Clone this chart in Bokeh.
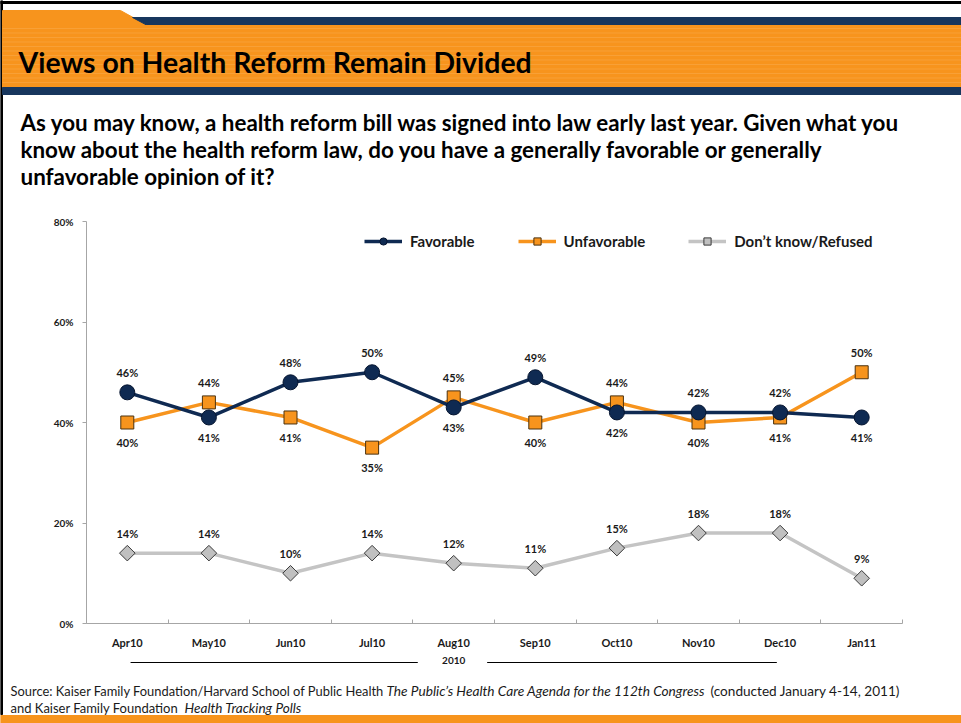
import numpy as np
from bokeh.plotting import figure
from bokeh.models import (Range1d, FixedTicker, LinearAxis, Legend, LegendItem,
                          ColumnDataSource, PrintfTickFormatter)
from bokeh.core.properties import value
from bokeh.embed import file_html
from bokeh.resources import INLINE

# ---------------- data ----------------
months = ["Apr10", "May10", "Jun10", "Jul10", "Aug10", "Sep10", "Oct10", "Nov10", "Dec10", "Jan11"]
year_label = "2010"
year_months = months[:9]
favorable = [46, 41, 48, 50, 43, 49, 42, 42, 42, 41]
unfavorable = [40, 44, 41, 35, 45, 40, 44, 40, 41, 50]
dont_know = [14, 14, 10, 14, 12, 11, 15, 18, 18, 9]
fav_side = ["above", "below", "above", "above", "below", "above", "below", "above", "above", "below"]
unf_side = ["below", "above", "below", "below", "above", "below", "above", "below", "below", "above"]
dk_side = ["above"] * 10
y_ticks = [0, 20, 40, 60, 80]
series_names = ["Favorable", "Unfavorable", "Don\u2019t know/Refused"]

title_text = "Views on Health Reform Remain Divided"
question_lines = [
    "As you may know, a health reform bill was signed into law early last year. Given what you",
    "know about the health reform law, do you have a generally favorable or generally",
    "unfavorable opinion of it?",
]
source_line1 = ["Source: Kaiser Family Foundation/Harvard School of Public Health ",
                "The Public\u2019s Health Care Agenda for the 112th Congress",
                " (conducted January 4-14, 2011)"]
source_line2 = ["and Kaiser Family Foundation ", "Health Tracking Polls"]

# ---------------- styling / layout constants ----------------
PAGE_W, PAGE_H = 961, 723
F_LEFT, F_RIGHT, F_TOP, F_BOT = 86, 902, 221, 623   # plot area on the page (px)
Y_MAX = 80

ORANGE = "#f7941d"
NAVY = "#17365d"
FAV_C = "#0f2a52"
DK_LINE = "#c4c4c4"
AXIS_C = "#a6a6a6"
TXT = "#1a1a1a"
FONT = "Lato"

n = len(months)
x_px = (F_RIGHT - F_LEFT) / n          # px per category
y_px = (F_BOT - F_TOP) / Y_MAX         # px per percentage point
x_range = Range1d(-F_LEFT / x_px, (PAGE_W - F_LEFT) / x_px)
y_range = Range1d(-(PAGE_H - F_BOT) / y_px, Y_MAX + F_TOP / y_px)

p = figure(width=PAGE_W, height=PAGE_H, x_range=x_range, y_range=y_range,
           toolbar_location=None, output_backend="svg", x_axis_type=None, y_axis_type=None,
           min_border=0)
p.outline_line_color = None
p.background_fill_color = "white"
p.border_fill_color = "white"
# page-pixel coordinates for the slide decoration
p.extra_x_ranges = {"px": Range1d(0, PAGE_W)}
p.extra_y_ranges = {"px": Range1d(PAGE_H, 0)}
PX = dict(x_range_name="px", y_range_name="px")

# ---------------- slide frame / header ----------------
p.quad(left=0, right=2, top=0, bottom=714, color="black", **PX)
p.quad(left=0, right=PAGE_W, top=1, bottom=3, color="black", **PX)
p.patch(x=[2, 120, 147, 2], y=[10, 10, 25, 25], color=ORANGE, **PX)
p.patch(x=[132, PAGE_W, PAGE_W, 147], y=[17, 17, 25, 25], color=NAVY, **PX)
p.quad(left=2, right=PAGE_W, top=25, bottom=87, color=ORANGE, **PX)
stripe_y = list(np.arange(28, 86, 4.5))
p.multi_line(xs=[[2, PAGE_W]] * len(stripe_y), ys=[[y, y] for y in stripe_y],
             line_color="#f9a848", line_width=1, line_alpha=0.6, **PX)
p.quad(left=2, right=PAGE_W, top=87, bottom=94, color=NAVY, **PX)
p.text(x=[18], y=[61], text=[title_text], text_font=value(FONT), text_font_style="bold",
       text_font_size="28.4px", text_color="black", text_baseline="middle", **PX)
p.text(x=[20] * 3, y=[122, 149, 176], text=question_lines, text_font=value(FONT),
       text_font_style="bold", text_font_size="22.4px", text_color="black",
       text_baseline="middle", **PX)

# ---------------- series ----------------
xs = np.arange(n) + 0.5
LBL_OFF = 20


def offsets(sides):
    return [-LBL_OFF if s == "above" else LBL_OFF for s in sides]


def add_series(vals, sides, line_color, marker, fill, outline, size, angle=0.0):
    src = ColumnDataSource(dict(x=xs, y=vals, t=[f"{v}%" for v in vals], off=offsets(sides)))
    ln = p.line("x", "y", source=src, line_color=line_color, line_width=3.5)
    pts = p.scatter("x", "y", source=src, marker=marker, size=size, fill_color=fill,
                    line_color=outline, line_width=1, angle=angle)
    p.text("x", "y", text="t", y_offset="off", source=src, text_font=value(FONT),
           text_font_style="bold", text_font_size="11px", text_color=TXT,
           text_align="center", text_baseline="middle")
    return ln, pts


dk_r = add_series(dont_know, dk_side, DK_LINE, "square", "#c0c0c0", "#3a3a3a", 11, np.pi / 4)
unf_r = add_series(unfavorable, unf_side, ORANGE, "square", ORANGE, "#4a3210", 13)
fav_r = add_series(favorable, fav_side, FAV_C, "circle", FAV_C, "#061530", 15)

# ---------------- axes ----------------
yax = LinearAxis(ticker=FixedTicker(ticks=y_ticks), formatter=PrintfTickFormatter(format="%d%%"),
                 fixed_location=0, bounds=(0, Y_MAX))
yax.axis_line_color = AXIS_C
yax.major_tick_line_color = AXIS_C
yax.major_tick_in = 0
yax.major_tick_out = 4
yax.minor_tick_line_color = None
yax.major_label_standoff = 9
yax.major_label_text_font = FONT
yax.major_label_text_font_style = "bold"
yax.major_label_text_font_size = "10px"
yax.major_label_text_color = TXT
p.add_layout(yax, "left")

xax = LinearAxis(ticker=FixedTicker(ticks=list(xs), minor_ticks=list(range(n + 1))),
                 major_label_overrides={float(x): m for x, m in zip(xs, months)},
                 fixed_location=0, bounds=(0, n))
xax.axis_line_color = AXIS_C
xax.major_tick_line_color = None
xax.major_tick_in = 0
xax.major_tick_out = 0
xax.minor_tick_line_color = AXIS_C
xax.minor_tick_in = 4
xax.minor_tick_out = 0
xax.major_label_standoff = 12
xax.major_label_text_font = FONT
xax.major_label_text_font_style = "bold"
xax.major_label_text_font_size = "11px"
xax.major_label_text_color = TXT
p.add_layout(xax, "below")

# year group label under the month axis
span_lo = months.index(year_months[0])
span_hi = months.index(year_months[-1]) + 1
centre = (span_lo + span_hi) / 2
p.text(x=[centre], y=[660], text=[year_label], y_range_name="px", text_font=value(FONT),
       text_font_style="bold", text_font_size="10px", text_color=TXT, text_align="center",
       text_baseline="middle")
p.segment(x0=[span_lo + 0.54, centre + 0.41], x1=[centre - 0.44, span_hi - 0.54],
          y0=[662, 662], y1=[662, 662], y_range_name="px", line_color="black", line_width=1)

# ---------------- legend ----------------
legend = Legend(items=[LegendItem(label=series_names[0], renderers=list(fav_r)),
                       LegendItem(label=series_names[1], renderers=list(unf_r)),
                       LegendItem(label=series_names[2], renderers=list(dk_r))],
                orientation="horizontal", location=(364, PAGE_H - 250),
                border_line_color=None, background_fill_alpha=0, padding=0, margin=0,
                spacing=43, glyph_width=38, glyph_height=18, label_standoff=8,
                label_text_font=FONT, label_text_font_style="bold",
                label_text_font_size="15px", label_text_color=TXT)
p.add_layout(legend)

# ---------------- footer ----------------
p.quad(left=0, right=PAGE_W, top=715, bottom=PAGE_H, color=ORANGE, **PX)
p.text(x=[10, 386, 710], y=[690] * 3, text=source_line1, text_font=value(FONT),
       text_font_size=["12.9px", "13.7px", "13.6px"],
       text_font_style=["normal", "italic", "normal"],
       text_color=TXT, text_baseline="middle", **PX)
p.text(x=[10, 184], y=[707] * 2, text=source_line2, text_font=value(FONT),
       text_font_size=["13.0px", "13.6px"], text_font_style=["normal", "italic"],
       text_color=TXT, text_baseline="middle", **PX)

open("out.html", "w").write(file_html(p, INLINE))
